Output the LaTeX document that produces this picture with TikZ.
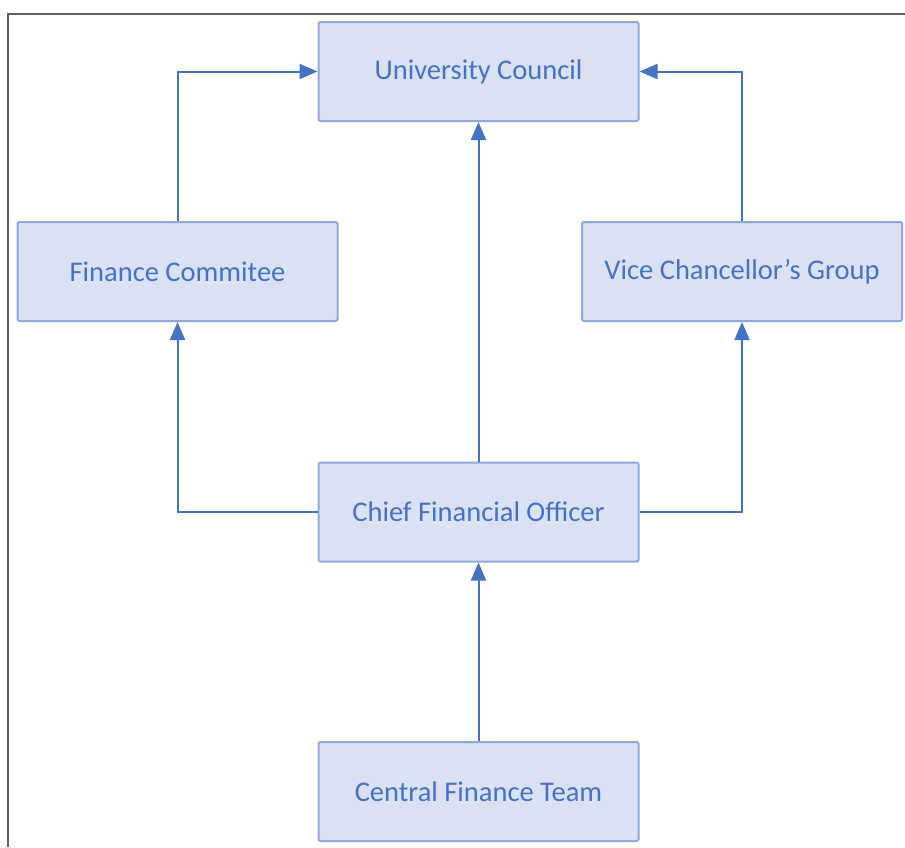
\documentclass[tikz,border=0pt]{standalone}
\usepackage{fontspec}
\setmainfont{Carlito}
\usetikzlibrary{arrows.meta}
\definecolor{boxfill}{HTML}{DAE1F3}
\definecolor{boxline}{HTML}{8EA9DB}
\definecolor{linkblue}{HTML}{4472C4}
\definecolor{framegray}{HTML}{5F5F5F}
\begin{document}
\begin{tikzpicture}[x=1pt,y=-1pt,
  orgbox/.style={draw=boxline,line width=2pt,fill=boxfill,rounded corners=1.5pt,
    minimum width=320pt,minimum height=99pt,inner sep=0pt,
    text=linkblue,font=\fontsize{28.5}{34}\selectfont},
  link/.style={draw=linkblue,line width=2pt,
    -{Triangle[length=18pt,width=15pt]}}]
\useasboundingbox (0,0) rectangle (905,847);
% outer frame
\draw[framegray,line width=2pt] (905,14) -- (8,14) -- (8,847);
% boxes
\node[orgbox] (uc)  at (478.5,71.5)  {University Council};
\node[orgbox] (fc)  at (177.5,271.5) {Finance Commitee};
\node[orgbox] (vcg) at (742,271.5)   {Vice Chancellor’s Group};
\node[orgbox] (cfo) at (478.5,512)   {Chief Financial Officer};
\node[orgbox] (cft) at (478.5,791.5) {Central Finance Team};
% reporting lines
\draw[link] (fc.north) |- (uc.west);
\draw[link] (vcg.north) |- (uc.east);
\draw[link] (cfo.north) -- (uc.south);
\draw[link] (cfo.west) -| (fc.south);
\draw[link] (cfo.east) -| (vcg.south);
\draw[link] (cft.north) -- (cfo.south);
\end{tikzpicture}
\end{document}
